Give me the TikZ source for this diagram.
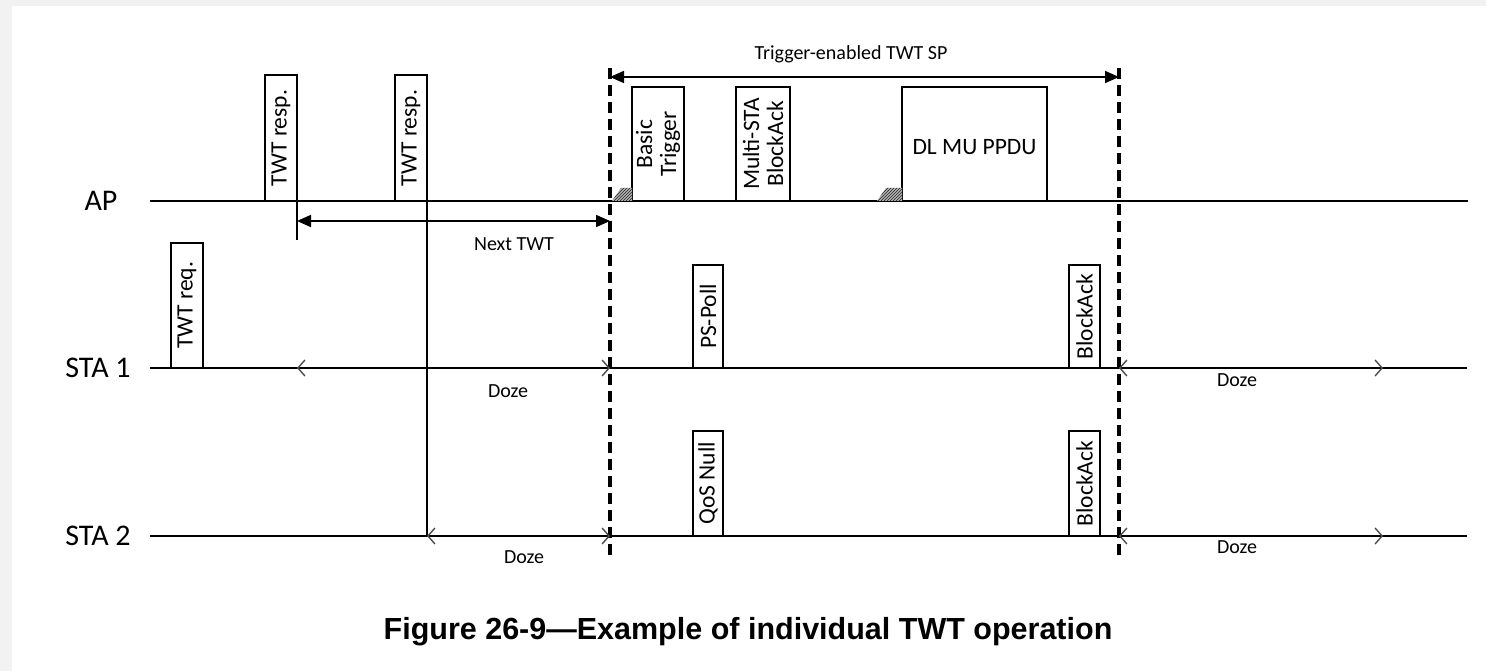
\documentclass[tikz,border=0pt]{standalone}
\usepackage{fontspec}
\setmainfont{Carlito}
\newfontfamily\capfont{Liberation Sans}
\usetikzlibrary{arrows.meta,patterns}
\begin{document}
\begin{tikzpicture}[x=1pt,y=-1pt,
  frame/.style={draw,line width=1.7pt,fill=white,inner sep=0pt,outer sep=0pt,anchor=south west},
  boxtext/.style={rotate=90,font=\fontsize{23.5}{24}\selectfont,align=center,inner sep=0pt},
  rowlbl/.style={font=\fontsize{30}{31}\selectfont,inner sep=0pt},
  smalllbl/.style={font=\fontsize{20}{22}\selectfont,inner sep=0pt},
  timeline/.style={line width=1.7pt},
  spline/.style={line width=3.3pt,dash pattern=on 11pt off 6pt},
  span/.style={line width=1.7pt,{Triangle[length=14pt,width=12pt]}-{Triangle[length=14pt,width=12pt]}},
  doze/.style={line width=1.7pt,{Straight Barb[length=7pt,width=16pt,line width=1.4pt,color=black!70]}-{Straight Barb[length=7pt,width=16pt,line width=1.4pt,color=black!70]}},
  preamble/.style={pattern=north east lines,pattern color=black!85}
]
% page
\fill[black!5] (0,0) rectangle (1486,671);
\fill[white] (12,6) rectangle (1486,671);
\useasboundingbox (0,0) rectangle (1486,671);

% timeline end points
\coordinate (apL) at (150,201); \coordinate (apR) at (1468,201);
\coordinate (s1L) at (150,368); \coordinate (s1R) at (1467,368);
\coordinate (s2L) at (150,536); \coordinate (s2R) at (1467,536);

\node[rowlbl] (apname) at (101,201) {AP};
\node[rowlbl] (s1name) at (98,368) {STA 1};
\node[rowlbl] (s2name) at (98,536) {STA 2};

\draw[timeline] (apL) -- (apR);
\draw[timeline] (s1L) -- (s1R);
\draw[timeline] (s2L) -- (s2R);

% frames on the AP line
\node[frame,minimum width=32pt,minimum height=126pt] (resp1) at (265,201) {};
\node[boxtext] at (resp1.center) {TWT resp.};
\node[frame,minimum width=32pt,minimum height=126pt] (resp2) at (395,201) {};
\node[boxtext] at (resp2.center) {TWT resp.};
\node[frame,minimum width=52pt,minimum height=114pt] (trig) at (632,201) {};
\node[boxtext] at (trig.center) {Basic\\Trigger};
\node[frame,minimum width=54pt,minimum height=114pt] (msba) at (736,201) {};
\node[boxtext] at (msba.center) {Multi-STA\\BlockAck};
\node[frame,minimum width=145pt,minimum height=114pt] (dlmu) at (902,201) {};
\node[font=\fontsize{23.5}{24}\selectfont,inner sep=0pt] at ([yshift=-3pt]dlmu.center) {DL MU PPDU};

% preambles
\fill[black!30] (612,201) -- (621,188) -- (trig.west |- 0,188) -- (trig.south west) -- cycle;
\fill[preamble] (612,201) -- (621,188) -- (trig.west |- 0,188) -- (trig.south west) -- cycle;
\fill[black!30] (877,201) -- (886,188) -- (dlmu.west |- 0,188) -- (dlmu.south west) -- cycle;
\fill[preamble] (877,201) -- (886,188) -- (dlmu.west |- 0,188) -- (dlmu.south west) -- cycle;

% frames on the STA 1 line
\node[frame,minimum width=32pt,minimum height=125pt] (req) at (171,368) {};
\node[boxtext] at (req.center) {TWT req.};
\node[frame,minimum width=30pt,minimum height=103pt] (pspoll) at (693,368) {};
\node[boxtext] at (pspoll.center) {PS-Poll};
\node[frame,minimum width=31pt,minimum height=103pt] (ba1) at (1069,368) {};
\node[boxtext] at (ba1.center) {BlockAck};

% frames on the STA 2 line
\node[frame,minimum width=30pt,minimum height=105pt] (qos) at (693,536) {};
\node[boxtext] at (qos.center) {QoS Null};
\node[frame,minimum width=31pt,minimum height=105pt] (ba2) at (1069,536) {};
\node[boxtext] at (ba2.center) {BlockAck};

% next TWT
\coordinate (tick) at (297,240);
\coordinate (ntL) at (297,221); \coordinate (ntR) at (610,221);
\draw[timeline] (resp1.south east) -- (tick);
\draw[span] (ntL) -- (ntR);
\node[smalllbl] (ntlbl) at (514,244) {Next TWT};

\coordinate (foot2) at (427,536);
\draw[timeline] (resp2.south east) -- (foot2);

% service period
\coordinate (spTL) at (610,68); \coordinate (spBL) at (610,557);
\coordinate (spTR) at (1119,68); \coordinate (spBR) at (1119,557);
\draw[spline] (spTL) -- (spBL);
\draw[spline] (spTR) -- (spBR);
\coordinate (spaL) at (610,77); \coordinate (spaR) at (1119,77);
\draw[span] (spaL) -- (spaR);
\node[smalllbl] (splbl) at (851,54) {Trigger-enabled TWT SP};

% doze intervals
\coordinate (d1a) at (297,368); \coordinate (d1b) at (610,368);
\coordinate (d2a) at (1119,368); \coordinate (d2b) at (1383,368);
\coordinate (d3a) at (427,536); \coordinate (d3b) at (610,536);
\coordinate (d4a) at (1119,536); \coordinate (d4b) at (1383,536);
\draw[doze] (d1a) -- (d1b);
\draw[doze] (d2a) -- (d2b);
\draw[doze] (d3a) -- (d3b);
\draw[doze] (d4a) -- (d4b);
\node[smalllbl] at (508,391) {Doze};
\node[smalllbl] at (1237,380) {Doze};
\node[smalllbl] at (524,557) {Doze};
\node[smalllbl] at (1237,547) {Doze};

% caption
\node[font=\capfont\bfseries\fontsize{30.5}{32}\selectfont,inner sep=0pt] (cap) at (748,632) {Figure 26-9—Example of individual TWT operation};
\end{tikzpicture}
\end{document}
